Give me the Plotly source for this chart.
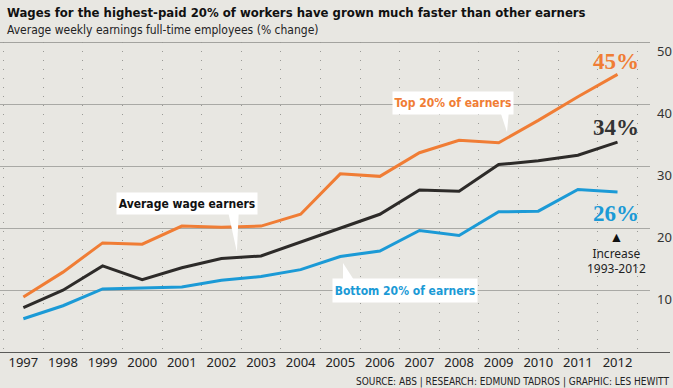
import plotly.graph_objects as go

years = list(range(1997, 2013))
top20 = [9.0, 13.0, 17.7, 17.5, 20.4, 20.2, 20.4, 22.3, 28.8, 28.4, 32.2, 34.2, 33.8, 37.4, 41.2, 44.8]
average = [7.3, 10.1, 14.0, 11.8, 13.7, 15.2, 15.6, 17.8, 20.0, 22.3, 26.2, 26.0, 30.3, 30.9, 31.8, 33.9]
bottom20 = [5.5, 7.6, 10.3, 10.4, 10.6, 11.7, 12.3, 13.4, 15.5, 16.4, 19.7, 18.9, 22.7, 22.8, 26.3, 25.9]
y_ticks = [10, 20, 30, 40, 50]

ORANGE = "#f07d35"
BLACK = "#2d2b29"
BLUE = "#1b9ad6"
BG = "#e8e7e2"
COND = "DejaVu Sans Condensed, Roboto, sans-serif"
SANS = "Noto Sans, Open Sans, sans-serif"
SERIF = "Liberation Serif, DejaVu Serif, serif"

fig = go.Figure()
for vals, col in [(bottom20, BLUE), (average, BLACK), (top20, ORANGE)]:
    fig.add_trace(go.Scatter(x=years, y=vals, mode="lines",
                             line=dict(color=col, width=3), hoverinfo="skip",
                             showlegend=False))

fig.update_layout(
    width=673, height=388,
    margin=dict(l=0, r=23, t=42, b=35),
    paper_bgcolor=BG, plot_bgcolor=BG,
    xaxis=dict(range=[1996.41, 2012.82], tickvals=years, ticktext=[str(y) for y in years],
               showgrid=False, zeroline=False, showline=False, ticks="",
               tickfont=dict(family=SANS, size=13, color="#222"),
               minor=dict(tick0=1996.5, dtick=1, showgrid=True, gridcolor="#9a9a96",
                          griddash="1px,8px", gridwidth=1, ticks="")),
    yaxis=dict(range=[0, 50], side="right", tickvals=y_ticks, showgrid=True,
               gridcolor="#a9a9a5", gridwidth=1, zeroline=False, showline=False,
               ticks="", ticklabelposition="outside bottom", ticklabelstandoff=6,
               tickfont=dict(family=SANS, size=13, color="#333")),
)

# top line and baseline
fig.add_shape(type="line", xref="paper", yref="y", x0=0, x1=1, y0=50, y1=50,
              line=dict(color="#8c8c88", width=1.5), layer="below")
fig.add_shape(type="line", xref="paper", yref="y", x0=0, x1=670 / 650, y0=0, y1=0,
              line=dict(color="#5a5a58", width=2))

# pointers
def pointer(xs, ys):
    path = f"M {xs[0]},{ys[0]} L {xs[1]},{ys[1]} L {xs[2]},{ys[2]} Z"
    fig.add_shape(type="path", path=path, xref="x", yref="y",
                  fillcolor="white", line=dict(width=0), layer="above")

pointer([2002.16, 2002.39, 2002.44], [23.0, 16.24, 23.0])
pointer([2009.03, 2009.21, 2009.26], [39.0, 35.5, 39.0])
pointer([2005.07, 2005.07, 2005.37], [11.5, 14.47, 11.5])

def box(text, x, y, w, h, col):
    fig.add_annotation(x=x, y=y, xref="x", yref="y", text=f"<b>{text}</b>",
                       showarrow=False, bgcolor="white", borderpad=0, width=w, height=h,
                       font=dict(family=COND, size=12, color=col), align="center")

box("Average wage earners", 2001.13, 24.1, 140, 21, "#111")
box("Top 20% of earners", 2007.85, 40.2, 120, 22, ORANGE)
box("Bottom 20% of earners", 2006.63, 10.05, 144, 23, BLUE)

for txt, y, col in [("45%", 46.8, ORANGE), ("34%", 36.3, "#333"), ("26%", 22.5, BLUE)]:
    fig.add_annotation(x=2011.96, y=y, xref="x", yref="y", text=f"<b>{txt}</b>",
                       showarrow=False, font=dict(family=SERIF, size=23, color=col))

fig.add_annotation(x=2011.98, y=16.3, xref="x", yref="y",
                   text="<span style='font-size:14px;color:#111'>▲</span><br>Increase<br>1993-2012",
                   showarrow=False, align="center",
                   font=dict(family=SANS, size=12, color="#222"))

# title, subtitle, source
fig.add_annotation(x=5 / 650, y=(353 - 12) / 311, xref="paper", yref="paper",
                   xanchor="left", yanchor="middle", showarrow=False,
                   text="<b>Wages for the highest-paid 20% of workers have grown much faster than other earners</b>",
                   font=dict(family=COND, size=13, color="#111"))
fig.add_annotation(x=5 / 650, y=(353 - 30) / 311, xref="paper", yref="paper",
                   xanchor="left", yanchor="middle", showarrow=False,
                   text="Average weekly earnings full-time employees (% change)",
                   font=dict(family=COND, size=12, color="#222"))
fig.add_annotation(x=671 / 650, y=(353 - 382) / 311, xref="paper", yref="paper",
                   xanchor="right", yanchor="middle", showarrow=False,
                   text="SOURCE: ABS | RESEARCH: EDMUND TADROS | GRAPHIC: LES HEWITT",
                   font=dict(family=COND, size=10, color="#222"))

fig.write_html("out.html", config={"displayModeBar": False},
               post_script="document.body.style.margin='0';")
